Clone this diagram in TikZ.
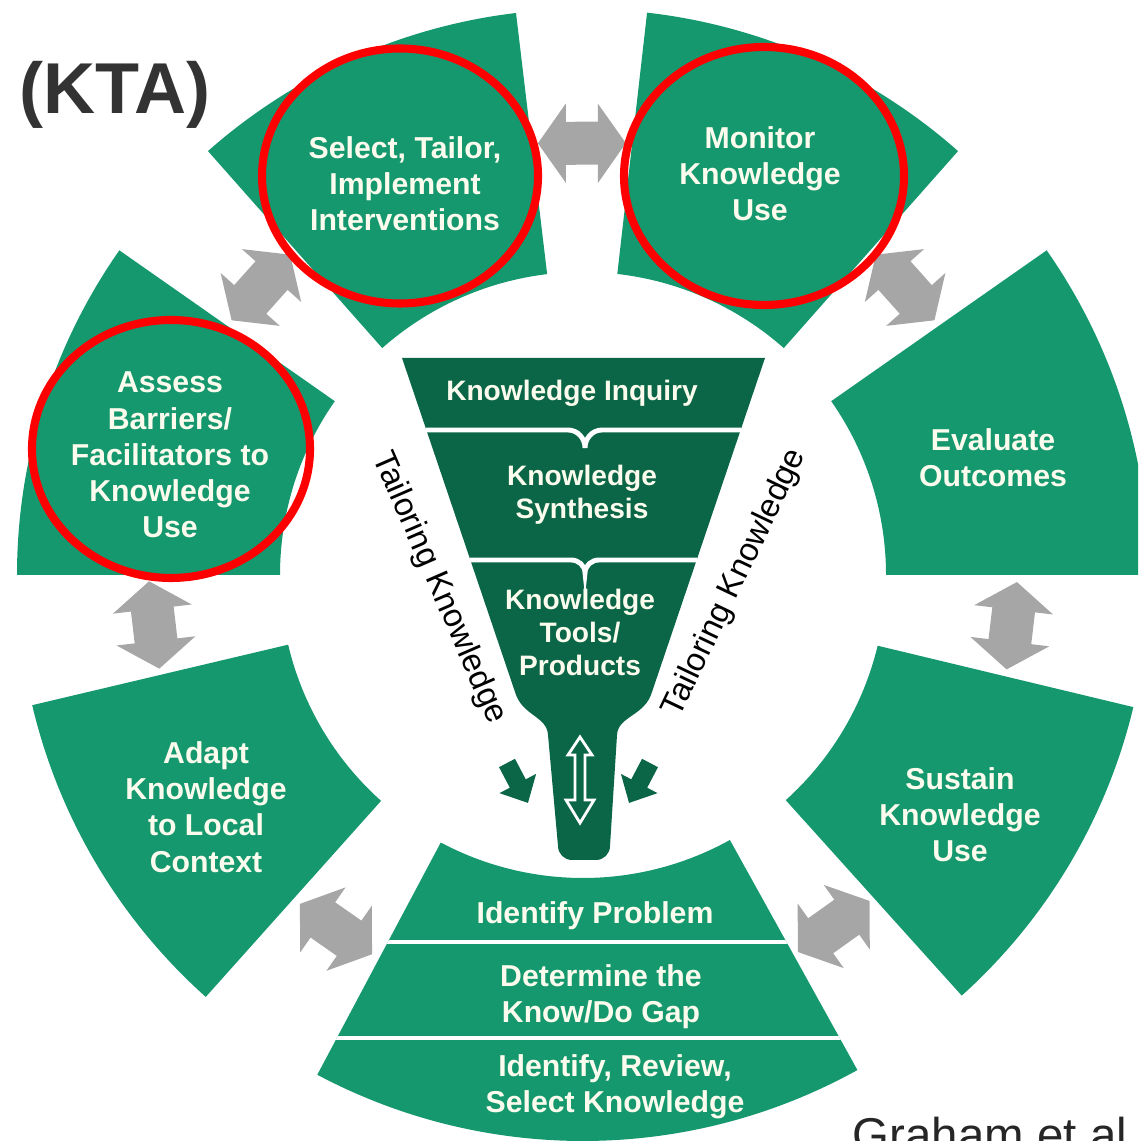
\documentclass[tikz,border=0pt]{standalone}
\usepackage{fontspec}
\setmainfont{Liberation Sans}
\usetikzlibrary{arrows.meta}
\definecolor{stagegreen}{RGB}{22,152,111}
\definecolor{funnelgreen}{RGB}{10,102,70}
\definecolor{arrowgray}{RGB}{166,166,166}
\definecolor{labelcream}{RGB}{252,252,238}
\definecolor{ktagray}{RGB}{51,51,51}
\begin{document}
\begin{tikzpicture}[
    stage/.style={text=labelcream, align=center, font=\fontsize{8.6}{10.3}\selectfont\bfseries},
    funneltext/.style={text=labelcream, align=center, font=\fontsize{8}{9.4}\selectfont\bfseries},
    tailor/.style={font=\fontsize{9.3}{11}\selectfont},
    cyclearrow/.style={arrowgray, line width=0.43cm, {Triangle[width=0.78cm,length=0.28cm]}-{Triangle[width=0.78cm,length=0.28cm]}},
    feedarrow/.style={funnelgreen, line width=0.18cm, -{Triangle[width=0.40cm,length=0.22cm]}},
    redring/.style={red, line width=2.3pt},
    divider/.style={white, line width=1.4pt}
    ]
    \clip (0,0) rectangle (11.38,11.41) ;
    \begin{scope}[shift={(5.83,5.66)}]
    \foreach \a/\b in {0/35,48.5/83.5,96.8/131.5,145/180,193.3/228.2,242/299,312/346.5}{
    \fill[stagegreen] (\a:3.03) arc[start angle=\a,end angle=\b,radius=3.03] -- (\b:5.66) arc[start angle=\b,end angle=\a,radius=5.66] -- cycle ;}
    \begin{scope}
    \clip (242:3.03) arc[start angle=242,end angle=299,radius=3.03] -- (299:5.66) arc[start angle=299,end angle=242,radius=5.66] -- cycle ;
    \draw[divider] (-4,-3.67) -- (4,-3.67) ;
    \draw[divider] (-4,-4.63) -- (4,-4.63) ;
    \end{scope}
    \foreach \g [count=\i] in {41.75,90.15,138.25,186.65,235.1,305.5,353.25}{
    \coordinate (sw\i-l) at ({\g-5.82}:4.34) ;
    \coordinate (sw\i-r) at ({\g+5.82}:4.34) ;
    \draw[cyclearrow] (sw\i-l) -- (sw\i-r) ;}
    \end{scope}
    \fill[funnelgreen] (4.02,7.83) -- (7.65,7.83) -- (6.52,4.49) .. controls (6.45,4.25) and (6.18,4.25) .. (6.17,4.06) -- (6.10,2.95) to[out=-90,in=0] (5.96,2.81) -- (5.72,2.81) to[out=180,in=-90] (5.58,2.95) -- (5.48,4.06) .. controls (5.47,4.25) and (5.22,4.25) .. (5.15,4.49) -- cycle ;
    \draw[divider] (4.26,7.11) -- (5.68,7.11) to[out=0,in=90] (5.85,6.93) to[out=90,in=180] (6.02,7.11) -- (7.41,7.11) ;
    \draw[divider] (4.70,5.81) -- (5.71,5.81) to[out=0,in=90] (5.85,5.68) to[out=90,in=180] (5.99,5.81) -- (6.97,5.81) ;
    \draw[white, line width=0.8pt, fill=funnelgreen] (5.80,4.04) -- (5.92,3.86) -- (5.85,3.86) -- (5.85,3.41) -- (5.94,3.41) -- (5.80,3.18) -- (5.66,3.41) -- (5.75,3.41) -- (5.75,3.86) -- (5.68,3.86) -- cycle ;
    \coordinate (feedl-from) at (5.07,3.78) ;
    \coordinate (feedl-to) at (5.28,3.38) ;
    \coordinate (feedr-from) at (6.50,3.78) ;
    \coordinate (feedr-to) at (6.29,3.38) ;
    \draw[feedarrow] (feedl-from) -- (feedl-to) ;
    \draw[feedarrow] (feedr-from) -- (feedr-to) ;
    \node[font=\fontsize{20.5}{24}\selectfont\bfseries, text=ktagray] (kta) at (1.15,10.46) {(KTA)} ;
    \node[stage] (select) at (4.05,9.57) {Select, Tailor,\\Implement\\Interventions} ;
    \node[stage] (monitor) at (7.60,9.67) {Monitor\\Knowledge\\Use} ;
    \node[stage] (evaluate) at (9.93,6.83) {Evaluate\\Outcomes} ;
    \node[stage] (sustain) at (9.60,3.26) {Sustain\\Knowledge\\Use} ;
    \node[stage] (adapt) at (2.06,3.34) {Adapt\\Knowledge\\to Local\\Context} ;
    \node[stage] (assess) at (1.70,6.86) {Assess\\Barriers/\\Facilitators to\\Knowledge\\Use} ;
    \node[stage] (problem) at (5.95,2.25) {Identify Problem} ;
    \node[stage] (gap) at (6.01,1.44) {Determine the\\Know/Do Gap} ;
    \node[stage] (review) at (6.15,0.54) {Identify, Review,\\Select Knowledge} ;
    \node[funneltext] (inquiry) at (5.72,7.48) {Knowledge Inquiry} ;
    \node[funneltext] (synthesis) at (5.82,6.46) {Knowledge\\Synthesis} ;
    \node[funneltext] (tools) at (5.80,5.09) {Knowledge\\Tools/\\Products} ;
    \node[tailor, rotate=-66.5] (tailorleft) at (4.39,5.53) {Tailoring Knowledge} ;
    \node[tailor, rotate=64.5] (tailorright) at (7.35,5.58) {Tailoring Knowledge} ;
    \node[anchor=base west, inner sep=0pt, font=\fontsize{13.5}{16}\selectfont, text=black!85] (graham) at (8.52,-0.10) {Graham et al} ;
    \draw[redring] ([shift={(-0.05,0.08)}]select.center) ellipse [x radius=1.38, y radius=1.275] ;
    \draw[redring] ([shift={(0.04,-0.02)}]monitor.center) ellipse [x radius=1.40, y radius=1.29] ;
    \draw[redring] ([shift={(0.01,0.06)}]assess.center) ellipse [x radius=1.39, y radius=1.29] ;
    \end{tikzpicture}
\end{document}
